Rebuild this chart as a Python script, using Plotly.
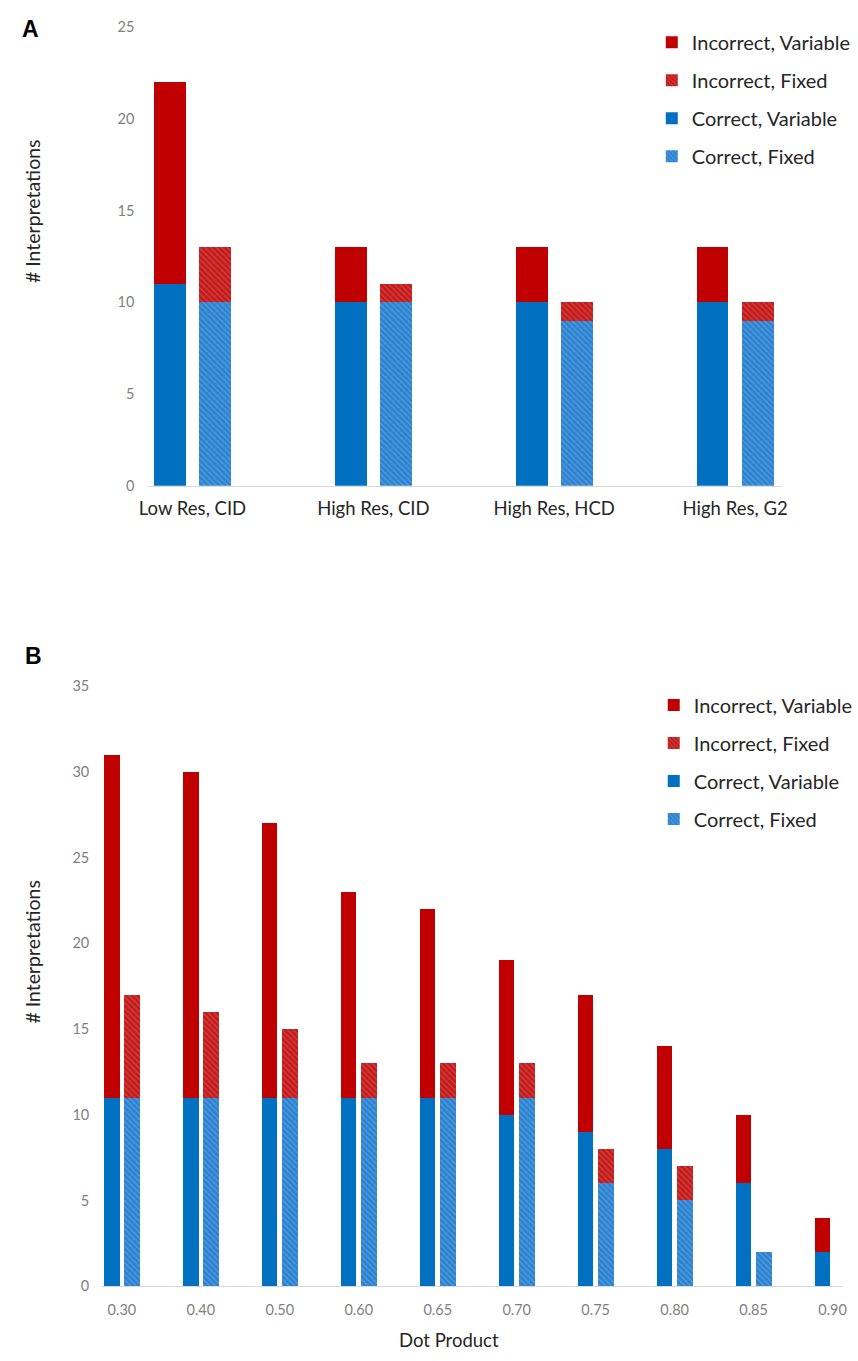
import plotly.graph_objects as go

# ---------------- data ----------------
a_categories = ["Low Res, CID", "High Res, CID", "High Res, HCD", "High Res, G2"]
a_correct_variable = [11, 10, 10, 10]
a_incorrect_variable = [11, 3, 3, 3]
a_correct_fixed = [10, 10, 9, 9]
a_incorrect_fixed = [3, 1, 1, 1]

b_categories = ["0.30", "0.40", "0.50", "0.60", "0.65", "0.70", "0.75", "0.80", "0.85", "0.90"]
b_correct_variable = [11, 11, 11, 11, 11, 10, 9, 8, 6, 2]
b_incorrect_variable = [20, 19, 16, 12, 11, 9, 8, 6, 4, 2]
b_correct_fixed = [11, 11, 11, 11, 11, 11, 6, 5, 2, 0]
b_incorrect_fixed = [6, 5, 4, 2, 2, 2, 2, 2, 0, 0]

a_yticks = [0, 5, 10, 15, 20, 25]
b_yticks = [0, 5, 10, 15, 20, 25, 30, 35]

# ---------------- style ----------------
RED = "#C00000"
BLUE = "#0070C0"
RED_FIX_BG = "#C41A1A"
RED_FIX_FG = "#E07070"
BLUE_FIX_BG = "#2C82CF"
BLUE_FIX_FG = "#7DB8EC"
FONT = "Lato"
W, H = 858, 1361


def xp(px):
    return px / W


def yp(py):
    return 1 - py / H


fig = go.Figure()


def add_panel(cats, cv, iv, cf, inf, xa, ya, legend, width, off):
    idx = list(range(len(cats)))
    xv = [i - off for i in idx]
    xf = [i + off for i in idx]
    specs = [
        ("Correct, Variable", xv, cv, BLUE, None, 3),
        ("Incorrect, Variable", xv, iv, RED, None, 1),
        ("Correct, Fixed", xf, cf, BLUE_FIX_BG, BLUE_FIX_FG, 4),
        ("Incorrect, Fixed", xf, inf, RED_FIX_BG, RED_FIX_FG, 2),
    ]
    for name, xs, ys, col, fg, rank in specs:
        marker = dict(color=col, line=dict(width=0))
        if fg:
            marker["pattern"] = dict(shape="\\", fgcolor=fg, bgcolor=col,
                                     size=4, solidity=0.3)
        fig.add_trace(go.Bar(
            x=xs, y=ys, width=width, name=name, marker=marker,
            xaxis=xa, yaxis=ya, legend=legend, legendgroup=legend + name,
            legendrank=rank,
        ))


add_panel(a_categories, a_correct_variable, a_incorrect_variable,
          a_correct_fixed, a_incorrect_fixed, "x", "y", "legend", 0.176, 0.125)
add_panel(b_categories, b_correct_variable, b_incorrect_variable,
          b_correct_fixed, b_incorrect_fixed, "x2", "y2", "legend2", 0.199, 0.129)

axis_common = dict(showgrid=False, zeroline=False, ticks="", fixedrange=True)
TICK_GRAY = "#7F7F7F"
TEXT = "#262626"

fig.update_layout(
    width=W, height=H,
    margin=dict(l=0, r=0, t=0, b=0),
    paper_bgcolor="white", plot_bgcolor="white",
    barmode="stack", bargap=0,
    font=dict(family=FONT, color=TEXT),
    showlegend=True,
    xaxis=dict(
        domain=[xp(142), xp(788)], range=[-0.244, 3.261],
        tickmode="array", tickvals=list(range(len(a_categories))), ticktext=a_categories,
        tickfont=dict(size=18.5, color=TEXT), ticklabelstandoff=6,
        showline=True, linecolor="#D9D9D9", linewidth=1, anchor="y", **axis_common,
    ),
    yaxis=dict(
        domain=[yp(482.7), yp(18.2)], range=[0, 25],
        tickmode="array", tickvals=a_yticks,
        tickfont=dict(size=14.5, color=TICK_GRAY), ticklabelstandoff=13,
        showline=False, anchor="x", **axis_common,
    ),
    xaxis2=dict(
        domain=[xp(95), xp(850)], range=[-0.249, 9.134],
        tickmode="array", tickvals=list(range(len(b_categories))), ticktext=b_categories,
        tickfont=dict(size=14.5, color=TICK_GRAY), ticklabelstandoff=10,
        showline=True, linecolor="#D9D9D9", linewidth=1, anchor="y2", **axis_common,
    ),
    yaxis2=dict(
        domain=[yp(1293.3), yp(685.7)], range=[0, 35],
        tickmode="array", tickvals=b_yticks,
        tickfont=dict(size=14.5, color=TICK_GRAY), ticklabelstandoff=12,
        showline=False, anchor="x2", **axis_common,
    ),
    legend=dict(
        x=xp(655), y=yp(14), xanchor="left", yanchor="top",
        traceorder="grouped", tracegroupgap=9,
        font=dict(size=20, color=TEXT, family=FONT),
        bgcolor="rgba(0,0,0,0)",
    ),
    legend2=dict(
        x=xp(657), y=yp(685), xanchor="left", yanchor="top",
        traceorder="grouped", tracegroupgap=9,
        font=dict(size=20, color=TEXT, family=FONT),
        bgcolor="rgba(0,0,0,0)",
    ),
    annotations=[
        dict(text="<b>A</b>", x=xp(22), y=yp(20), xref="paper", yref="paper",
             xanchor="center", yanchor="middle",
             showarrow=False, font=dict(size=23, family="Liberation Sans", color="black")),
        dict(text="<b>B</b>", x=xp(25), y=yp(655), xref="paper", yref="paper",
             xanchor="center", yanchor="middle",
             showarrow=False, font=dict(size=23, family="Liberation Sans", color="black")),
        dict(text="# Interpretations", x=xp(24), y=yp(205), xref="paper", yref="paper",
             xanchor="center", yanchor="middle",
             textangle=-90, showarrow=False, font=dict(size=19.5, color=TEXT)),
        dict(text="# Interpretations", x=xp(24), y=yp(955), xref="paper", yref="paper",
             xanchor="center", yanchor="middle",
             textangle=-90, showarrow=False, font=dict(size=19.5, color=TEXT)),
        dict(text="Dot Product", x=xp(448), y=yp(1348), xref="paper", yref="paper",
             xanchor="center", yanchor="middle",
             showarrow=False, font=dict(size=18.5, color=TEXT)),
    ],
)

fig.write_html("out.html",
               config={"displayModeBar": False, "staticPlot": True},
               post_script="document.body.style.margin='0';document.body.style.overflow='hidden';")
